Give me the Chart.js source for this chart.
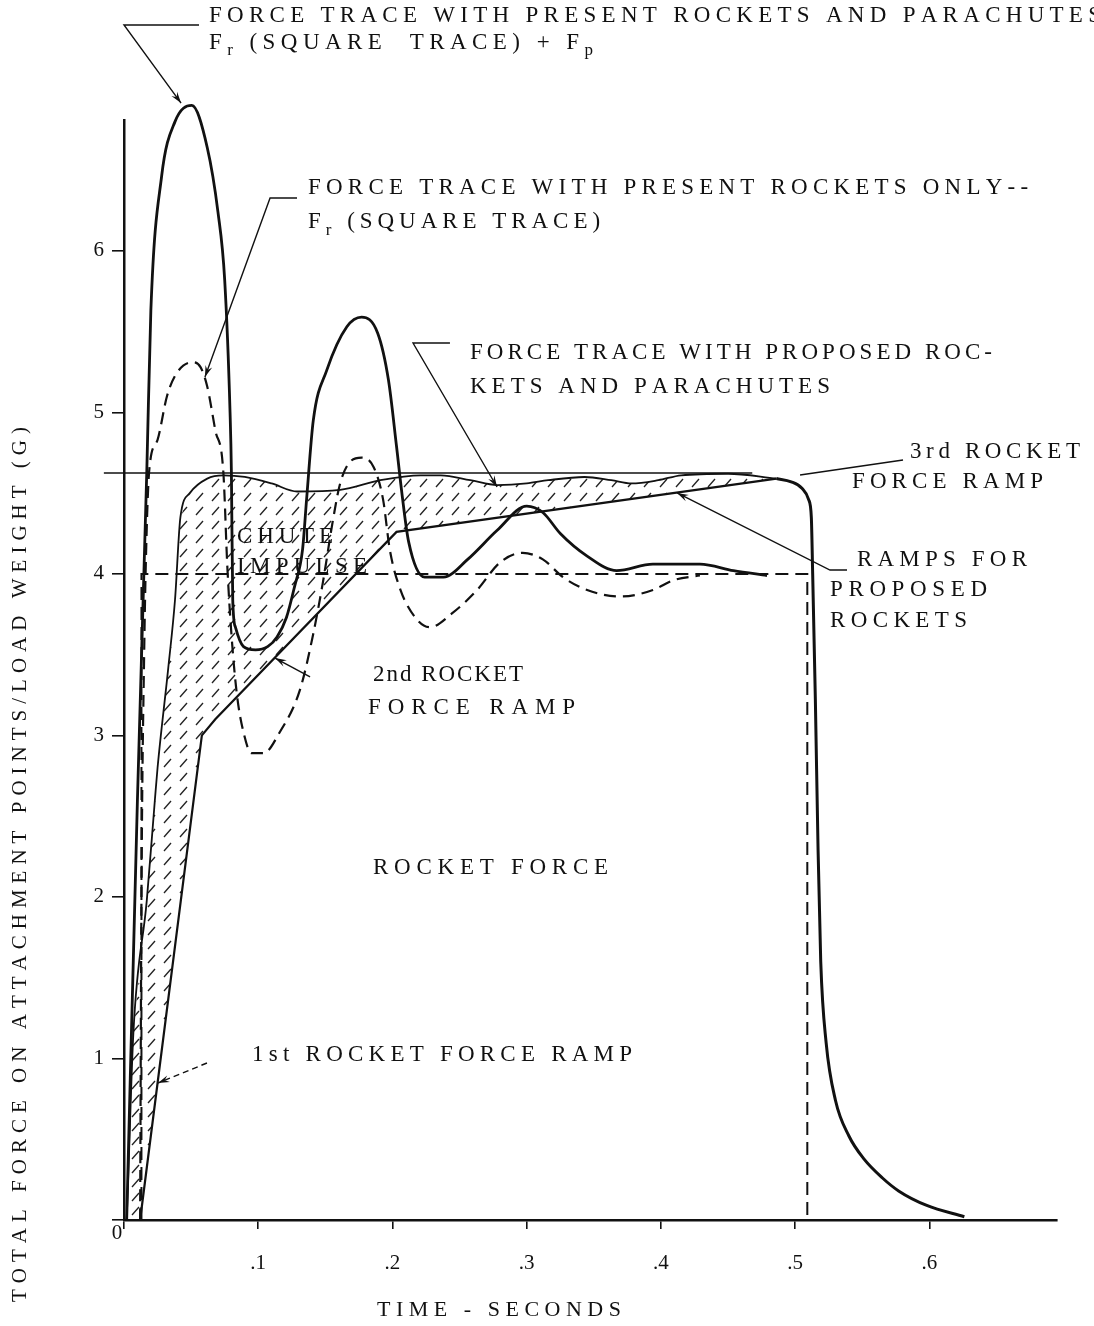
<!DOCTYPE html>
<html lang="en">
<head>
    <meta charset="UTF-8">
    <title>Total force on attachment points</title>
    <script src="https://cdn.jsdelivr.net/npm/chart.js"></script>
    <style>
        html, body {
            margin: 0;
            padding: 0;
            background-color: #fff;
        }
        .chart-box {
            width: 1094px;
            height: 1326px;
        }
    </style>
</head>
<body>
    <div class="chart-box">
        <canvas id="forceChart" width="1094" height="1326"></canvas>
    </div>

    <script>
        // Axis ticks
        const timeTicks = [0, 0.1, 0.2, 0.3, 0.4, 0.5, 0.6];
        const timeTickLabels = ['', '.1', '.2', '.3', '.4', '.5', '.6'];
        const forceTicks = [0, 1, 2, 3, 4, 5, 6];
        const forceTickLabels = ['', '1', '2', '3', '4', '5', '6'];

        // Series, each point is [time (s), force (G)]
        // present rockets and parachutes: Fr (square trace) + Fp
        const presentWithChutes = [
            [0.002, 0], [0.010, 2.6], [0.017, 4.64], [0.020, 5.63], [0.028, 6.46], [0.038, 6.8],
            [0.0505, 6.9], [0.062, 6.64], [0.070, 6.24], [0.075, 5.82], [0.079, 5.0], [0.080, 4.63],
            [0.081, 3.84], [0.083, 3.67], [0.089, 3.55], [0.098, 3.53], [0.107, 3.55], [0.114, 3.61],
            [0.121, 3.73], [0.127, 3.92], [0.133, 4.15], [0.136, 4.46], [0.141, 4.95], [0.151, 5.26],
            [0.166, 5.53], [0.177, 5.59], [0.189, 5.49], [0.197, 5.2], [0.203, 4.79], [0.207, 4.5],
            [0.212, 4.2], [0.224, 3.98], [0.238, 3.98], [0.256, 4.09], [0.278, 4.27], [0.300, 4.42],
            [0.312, 4.38], [0.325, 4.25], [0.345, 4.11], [0.367, 4.02], [0.394, 4.06], [0.429, 4.06],
            [0.454, 4.02], [0.479, 3.99]
        ];
        // present rockets only: Fr
        const presentRocketsOnly = [
            [0.012, 0], [0.013, 2.0], [0.015, 3.5], [0.017, 4.3], [0.019, 4.66], [0.025, 4.83],
            [0.032, 5.10], [0.039, 5.24], [0.051, 5.31], [0.057, 5.28], [0.062, 5.16], [0.068, 4.89],
            [0.074, 4.63], [0.077, 4.04], [0.080, 3.63], [0.084, 3.26], [0.089, 3.02], [0.095, 2.89],
            [0.104, 2.89], [0.116, 3.02], [0.131, 3.28], [0.141, 3.63], [0.148, 3.94], [0.156, 4.35],
            [0.161, 4.56], [0.168, 4.69], [0.177, 4.72], [0.186, 4.66], [0.193, 4.46], [0.198, 4.15],
            [0.206, 3.90], [0.218, 3.72], [0.228, 3.67], [0.245, 3.76], [0.263, 3.90], [0.280, 4.07],
            [0.297, 4.13], [0.312, 4.09], [0.327, 3.98], [0.345, 3.90], [0.370, 3.86], [0.394, 3.90],
            [0.409, 3.96], [0.429, 3.99]
        ];
        // square trace
        const squareTrace = [[0.013, 0], [0.013, 4.0], [0.509, 4.0], [0.509, 0]];
        // proposed rockets and parachutes
        const proposedWithChutes = [
            [0.002, 0], [0.003, 0.23], [0.007, 1.16], [0.017, 1.98], [0.023, 2.6], [0.025, 2.8],
            [0.033, 3.42], [0.038, 3.84], [0.042, 4.35], [0.049, 4.5], [0.062, 4.59], [0.074, 4.61],
            [0.090, 4.60], [0.110, 4.56], [0.129, 4.51], [0.161, 4.52], [0.191, 4.58], [0.221, 4.61],
            [0.236, 4.61], [0.258, 4.58], [0.278, 4.55], [0.300, 4.56], [0.316, 4.58], [0.343, 4.60],
            [0.363, 4.58], [0.378, 4.56], [0.398, 4.58], [0.415, 4.61], [0.450, 4.62], [0.486, 4.59]
        ];
        // ramps for proposed rockets (1st, 2nd, 3rd)
        const proposedRamps = [[0.012, 0], [0.058, 3.0], [0.068, 3.1], [0.203, 4.26], [0.486, 4.59]];
        // thrust cut-off after the 3rd ramp
        const rampCutoff = [
            [0.486, 4.59], [0.497, 4.57], [0.505, 4.53], [0.510, 4.46], [0.512, 4.35], [0.513, 4.0],
            [0.515, 3.22], [0.517, 2.3], [0.519, 1.6], [0.523, 1.1], [0.530, 0.74], [0.540, 0.52],
            [0.551, 0.38], [0.565, 0.26], [0.577, 0.18], [0.598, 0.09], [0.626, 0.02]
        ];
        const referenceLevel = [[-0.015, 4.625], [0.468, 4.625]];

        const ink = '#111';
        const serif = '"Liberation Serif", "DejaVu Serif", serif';

        // Notes on the plot: [text runs, time, force, width px]
        const notes = [
            [[['FORCE TRACE WITH PRESENT ROCKETS AND PARACHUTES']], 0.0633, 7.454, 892],
            [[['F'], ['r', 1], [' (SQUARE  TRACE) + F'], ['p', 1]], 0.0633, 7.290, 384],
            [[['FORCE TRACE WITH PRESENT ROCKETS ONLY--']], 0.1371, 6.389, 720],
            [[['F'], ['r', 1], [' (SQUARE TRACE)']], 0.1371, 6.178, 292],
            [[['FORCE TRACE WITH PROPOSED ROC-']], 0.2577, 5.370, 522],
            [[['KETS AND PARACHUTES']], 0.2577, 5.160, 360],
            [[['3rd ROCKET']], 0.5855, 4.755, 170],
            [[['FORCE RAMP']], 0.5423, 4.569, 191],
            [[['RAMPS FOR']], 0.5460, 4.086, 170],
            [[['PROPOSED']], 0.5259, 3.900, 157],
            [[['ROCKETS']], 0.5259, 3.708, 137],
            [[['CHUTE']], 0.0842, 4.228, 96],
            [[['IMPULSE']], 0.0842, 4.043, 130],
            [[['2nd ROCKET']], 0.1855, 3.374, 150],
            [[['FORCE RAMP']], 0.1818, 3.170, 207],
            [[['ROCKET FORCE']], 0.1855, 2.179, 235],
            [[['1st ROCKET FORCE RAMP']], 0.0954, 1.021, 380]
        ];

        // Leader lines: points in [time, force], arrow at last point
        const leaders = [
            { pts: [[0.0559, 7.398], [0, 7.398], [0.0425, 6.915]], arrow: true },
            { pts: [[0.1289, 6.327], [0.1088, 6.327], [0.0603, 5.219]], arrow: true },
            { pts: [[0.2428, 5.429], [0.2153, 5.429], [0.2779, 4.538]], arrow: true },
            { pts: [[0.5803, 4.705], [0.5036, 4.612]], arrow: false },
            { pts: [[0.5386, 4.024], [0.5259, 4.024], [0.4120, 4.501]], arrow: true },
            { pts: [[0.1386, 3.362], [0.1125, 3.479]], arrow: true },
            { pts: [[0.0618, 0.972], [0.0253, 0.848]], arrow: true, dash: [6, 4] }
        ];

        function toXY(arr) {
            return arr.map(p => ({ x: p[0], y: p[1] }));
        }

        // draw text char by char so it can be spread to a given width
        function spacedRuns(ctx, runs, x, y, width, size) {
            const mainFont = size + 'px ' + serif;
            const subFont = Math.round(size * 0.75) + 'px ' + serif;
            let natural = 0, count = 0;
            runs.forEach(r => {
                ctx.font = r[1] ? subFont : mainFont;
                for (const ch of r[0]) { natural += ctx.measureText(ch).width; count++; }
            });
            const gap = width ? (width - natural) / Math.max(count - 1, 1) : 0;
            let cx = x;
            runs.forEach(r => {
                ctx.font = r[1] ? subFont : mainFont;
                for (const ch of r[0]) {
                    ctx.fillText(ch, cx, r[1] ? y + 8 : y);
                    cx += ctx.measureText(ch).width + gap;
                }
            });
        }

        function arrowHead(ctx, x0, y0, x1, y1) {
            const a = Math.atan2(y1 - y0, x1 - x0);
            const s = 12;
            ctx.beginPath();
            ctx.moveTo(x1, y1);
            ctx.lineTo(x1 - s * Math.cos(a - 0.3), y1 - s * Math.sin(a - 0.3));
            ctx.lineTo(x1 - s * 0.6 * Math.cos(a), y1 - s * 0.6 * Math.sin(a));
            ctx.lineTo(x1 - s * Math.cos(a + 0.3), y1 - s * Math.sin(a + 0.3));
            ctx.closePath();
            ctx.fill();
        }

        function hatchPattern(ctx) {
            const tile = document.createElement('canvas');
            tile.width = 16;
            tile.height = 14;
            const g = tile.getContext('2d');
            g.strokeStyle = '#222';
            g.lineWidth = 1.3;
            g.beginPath();
            g.moveTo(4, 11);
            g.lineTo(11, 3);
            g.stroke();
            return ctx.createPattern(tile, 'repeat');
        }

        const paperPlugin = {
            id: 'paper',
            beforeDraw(chart) {
                const c = chart.ctx;
                c.save();
                c.fillStyle = '#fff';
                c.fillRect(0, 0, chart.width, chart.height);
                c.restore();
            }
        };

        // chute impulse: area between proposed trace and the ramps
        const hatchPlugin = {
            id: 'hatch',
            beforeDatasetsDraw(chart) {
                const c = chart.ctx;
                const xs = chart.scales.x, ys = chart.scales.y;
                c.save();
                c.beginPath();
                proposedWithChutes.forEach((p, i) => {
                    const px = xs.getPixelForValue(p[0]), py = ys.getPixelForValue(p[1]);
                    if (i === 0) c.moveTo(px, py); else c.lineTo(px, py);
                });
                proposedRamps.slice().reverse().forEach(p => {
                    c.lineTo(xs.getPixelForValue(p[0]), ys.getPixelForValue(p[1]));
                });
                c.closePath();
                c.fillStyle = hatchPattern(c);
                c.fill();
                c.restore();
            }
        };

        const notesPlugin = {
            id: 'notes',
            afterDraw(chart) {
                const c = chart.ctx;
                const xs = chart.scales.x, ys = chart.scales.y;
                const X = t => xs.getPixelForValue(t);
                const Y = g => ys.getPixelForValue(g);
                c.save();
                c.fillStyle = ink;
                c.strokeStyle = ink;
                c.textBaseline = 'middle';
                c.textAlign = 'left';

                notes.forEach(n => spacedRuns(c, n[0], X(n[1]), Y(n[2]), n[3], 23));

                leaders.forEach(l => {
                    c.lineWidth = 1.4;
                    c.setLineDash(l.dash || []);
                    c.beginPath();
                    l.pts.forEach((p, i) => {
                        if (i === 0) c.moveTo(X(p[0]), Y(p[1])); else c.lineTo(X(p[0]), Y(p[1]));
                    });
                    c.stroke();
                    c.setLineDash([]);
                    if (l.arrow) {
                        const a = l.pts[l.pts.length - 2], b = l.pts[l.pts.length - 1];
                        arrowHead(c, X(a[0]), Y(a[1]), X(b[0]), Y(b[1]));
                    }
                });

                // origin label
                c.textAlign = 'center';
                c.font = '21px ' + serif;
                c.fillText('0', X(0) - 7, Y(0) + 13);

                // axis titles
                c.textAlign = 'left';
                spacedRuns(c, [['TIME - SECONDS']], 377, 1310, 244, 22);

                c.save();
                c.translate(20, 865);
                c.rotate(-Math.PI / 2);
                spacedRuns(c, [['TOTAL FORCE ON ATTACHMENT POINTS/LOAD WEIGHT (G)']], -437, 0, 875, 21);
                c.restore();

                c.restore();
            }
        };

        const tickFont = { family: 'Liberation Serif', size: 21 };

        const ctx = document.getElementById('forceChart').getContext('2d');
        const forceChart = new Chart(ctx, {
            type: 'line',
            data: {
                datasets: [
                    {
                        label: 'Present rockets and parachutes',
                        data: toXY(presentWithChutes),
                        borderColor: ink,
                        borderWidth: 2.8,
                        cubicInterpolationMode: 'monotone',
                        clip: false
                    },
                    {
                        label: 'Present rockets only',
                        data: toXY(presentRocketsOnly),
                        borderColor: ink,
                        borderWidth: 2.2,
                        borderDash: [12, 7],
                        cubicInterpolationMode: 'monotone',
                        clip: false
                    },
                    {
                        label: 'Square trace',
                        data: toXY(squareTrace),
                        borderColor: ink,
                        borderWidth: 2,
                        borderDash: [13, 7],
                        tension: 0,
                        clip: false
                    },
                    {
                        label: 'Proposed rockets and parachutes',
                        data: toXY(proposedWithChutes),
                        borderColor: ink,
                        borderWidth: 1.8,
                        cubicInterpolationMode: 'monotone',
                        clip: false
                    },
                    {
                        label: 'Ramps for proposed rockets',
                        data: toXY(proposedRamps),
                        borderColor: ink,
                        borderWidth: 2.2,
                        tension: 0,
                        clip: false
                    },
                    {
                        label: 'Cut-off',
                        data: toXY(rampCutoff),
                        borderColor: ink,
                        borderWidth: 3,
                        cubicInterpolationMode: 'monotone',
                        clip: false
                    },
                    {
                        label: 'Reference level',
                        data: toXY(referenceLevel),
                        borderColor: ink,
                        borderWidth: 1.6,
                        tension: 0,
                        clip: false
                    }
                ]
            },
            options: {
                responsive: false,
                animation: false,
                events: [],
                layout: {
                    padding: { top: 120, right: 37, left: 0, bottom: 0 }
                },
                elements: {
                    point: { radius: 0 }
                },
                plugins: {
                    legend: { display: false },
                    tooltip: { enabled: false }
                },
                scales: {
                    x: {
                        type: 'linear',
                        min: 0,
                        max: 0.695,
                        afterFit: s => { s.height = 106; },
                        afterBuildTicks: s => { s.ticks = timeTicks.map(v => ({ value: v })); },
                        grid: { drawOnChartArea: false, tickLength: 9, color: ink, lineWidth: 1.6 },
                        border: { color: ink, width: 2.5 },
                        ticks: {
                            color: ink,
                            font: tickFont,
                            padding: 22,
                            maxRotation: 0,
                            autoSkip: false,
                            callback: (v, i) => timeTickLabels[i]
                        }
                    },
                    y: {
                        min: 0,
                        max: 6.81,
                        afterFit: s => { s.width = 124; },
                        afterBuildTicks: s => { s.ticks = forceTicks.map(v => ({ value: v })); },
                        grid: { drawOnChartArea: false, tickLength: 12, color: ink, lineWidth: 1.6 },
                        border: { color: ink, width: 2.5 },
                        ticks: {
                            color: ink,
                            font: tickFont,
                            padding: 8,
                            autoSkip: false,
                            callback: (v, i) => forceTickLabels[i]
                        }
                    }
                }
            },
            plugins: [paperPlugin, hatchPlugin, notesPlugin]
        });
    </script>
</body>
</html>
